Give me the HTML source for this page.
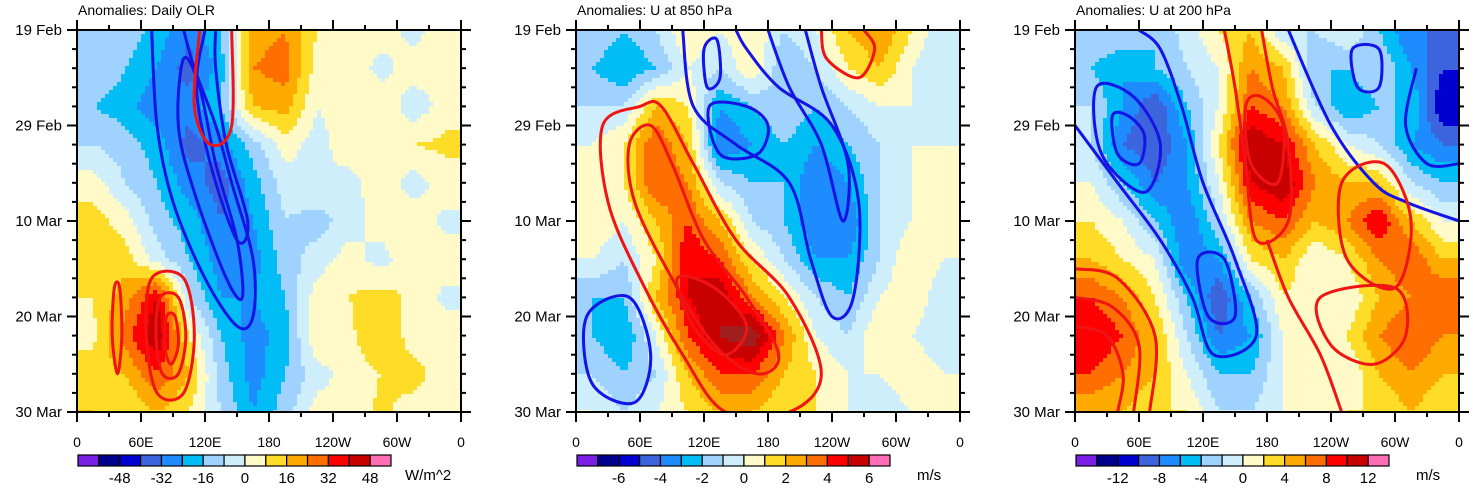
<!DOCTYPE html>
<html><head><meta charset="utf-8"><style>
body{margin:0;background:#fff;width:1473px;height:497px;overflow:hidden}
svg text{font-family:"Liberation Sans",sans-serif;fill:#000}
</style></head><body>
<svg id="chart" width="1473" height="497" xmlns="http://www.w3.org/2000/svg">
<defs>
<clipPath id="c0"><rect x="77" y="30" width="384" height="382"/></clipPath>
<clipPath id="c1"><rect x="576" y="30" width="384" height="382"/></clipPath>
<clipPath id="c2"><rect x="1075" y="30" width="384" height="382"/></clipPath>
</defs>
</svg>
<script>
// ---- data ----
const lonCenters=[15,45,75,105,135,165,195,225,255,285,315,345];
const dayRows=[0,4,8,12,16,20,24,28,32,36,40];
const xTickLabels=["0","60E","120E","180","120W","60W","0"];
const yTickLabels=["19 Feb","29 Feb","10 Mar","20 Mar","30 Mar"];
const titles=["Anomalies: Daily OLR","Anomalies: U at 850 hPa","Anomalies: U at 200 hPa"];
const units=["W/m^2","m/s","m/s"];
const levelStart=[-56,-7,-14];
const levelStep=[8,1,2];
const palette=["#7a1fe6","#00008c","#0000d0","#3c64dc","#1e8cff","#00bef5","#a0d2ff","#cdeefa","#fffac8","#ffdc28","#ffaa00","#ff6e00","#ff0000","#c80000","#a01e1e","#ff6eb4"];
const olr=[
[-12,-10,-20,-30,-16,20,24,8,4,6,-4,6],
[-8,-16,-24,-36,-20,24,28,4,8,-4,6,2],
[-16,-20,-30,-28,-16,16,20,0,4,8,-6,4],
[-8,-12,-20,-36,-28,-12,4,-4,6,4,8,10],
[4,-8,-16,-28,-36,-20,-4,0,-4,6,-4,4],
[12,4,-12,-20,-32,-24,-8,-12,-4,4,6,-2],
[16,12,-4,-16,-28,-28,-12,-4,4,-4,8,4],
[8,20,40,-8,-24,-24,-16,4,8,12,6,-2],
[6,28,48,8,-16,-28,-20,8,6,16,4,4],
[12,16,32,16,-12,-28,-16,-4,4,8,12,2],
[16,8,16,8,-8,-24,-12,4,2,10,4,6]];
const u850=[
[-1,-2,-1,1,0,1,-1,0,2,3,1,-1],
[-2,-3,-2,0,-1,1,-2,-1,1,2,0,-1],
[-1,-1,2,1,-3,-2,-1,-2,-1,0,0,-1],
[0,1,4,2,-4,-3,-2,-3,-2,-1,0,0],
[0,1,4,3,-1,-2,-2,-4,-3,-1,0,1],
[1,0,2,4,2,-1,-2,-4,-4,-1,0,0],
[0,-1,1,5,4,1,-1,-3,-3,-1,1,0],
[-2,-2,2,5,6,3,1,-1,-2,0,1,-1],
[-2,-3,0,4,6,7,3,0,-1,1,0,-1],
[-1,-2,-1,2,4,4,2,1,0,0,1,0],
[0,-1,0,1,2,2,1,1,0,-1,0,0]];
const u200=[
[-2,-2,-4,-1,2,4,-2,-2,0,-4,-8,-8],
[-4,-6,-4,-2,0,6,4,-4,-4,-2,-6,-10],
[-2,-6,-10,-4,0,8,6,-2,-6,-4,-4,-12],
[-2,-8,-10,-6,2,12,10,4,0,-2,-6,-8],
[0,-4,-8,-6,0,10,12,6,4,4,-2,-4],
[2,0,-4,-8,-2,6,8,4,6,10,4,0],
[4,2,0,-8,-6,2,4,0,2,6,8,4],
[8,6,2,-4,-10,-4,2,0,0,4,6,8],
[10,8,4,-2,-8,-6,0,2,2,6,8,6],
[8,6,4,0,-4,-4,0,2,0,4,6,4],
[4,4,2,2,-2,-2,0,0,2,2,4,2]];
// contour polylines: [lon, day]
const blue0=[[[70,0],[75,10],[90,18],[120,26],[150,31],[165,30],[165,24],[145,16],[130,10],[110,4],[100,0]],
 [[100,3],[95,10],[110,17],[140,26],[155,28],[150,22],[130,14],[115,6],[100,3]],
 [[120,0],[112,6],[125,14],[150,22],[160,20],[140,12],[130,4],[130,0]]];
const red0=[[[115,0],[110,8],[125,12],[145,10],[145,0]],
 [[70,26],[65,32],[75,38],[100,38],[110,32],[100,26],[70,26]],
 [[78,28],[74,32],[80,36],[95,36],[102,32],[95,28],[78,28]],
 [[84,30],[82,33],[88,35],[95,33],[92,30],[84,30]],
 [[35,27],[33,32],[38,36],[42,32],[40,27],[35,27]]];
const blue1=[[[100,0],[110,8],[150,12],[200,16],[220,24],[240,30],[260,28],[265,18],[240,10],[190,6],[160,2],[150,0]],
 [[125,8],[135,13],[170,13],[180,10],[160,8],[125,8]],
 [[10,30],[15,37],[55,39],[70,34],[50,28],[10,30]],
 [[120,2],[123,6],[135,5],[132,1],[120,2]],
 [[180,0],[200,6],[230,12],[250,20],[255,14],[230,6],[215,0]]];
const red1=[[[25,10],[30,18],[60,26],[100,34],[140,40],[200,40],[230,36],[200,28],[150,22],[110,14],[80,8],[60,8],[25,10]],
 [[50,12],[55,18],[90,26],[130,33],[170,36],[190,34],[160,28],[120,22],[90,14],[70,10],[50,12]],
 [[95,26],[110,31],[140,34],[160,31],[130,27],[95,26]],
 [[230,0],[235,3],[265,5],[280,2],[270,0]]];
const blue2=[[[0,10],[40,16],[80,22],[110,28],[130,34],[170,32],[150,24],[120,16],[100,8],[80,2],[60,0]],
 [[20,6],[25,13],[65,17],[80,12],[55,7],[20,6]],
 [[35,9],[40,13],[60,14],[65,11],[50,9],[35,9]],
 [[115,24],[125,30],[150,30],[140,24],[115,24]],
 [[260,2],[265,6],[285,6],[285,2],[260,2]],
 [[320,4],[310,10],[330,14],[360,14]],
 [[200,0],[240,10],[280,16],[310,18],[360,20]]];
const red2=[[[140,0],[150,6],[160,14],[170,22],[200,20],[200,12],[185,6],[175,0]],
 [[160,8],[165,14],[190,16],[195,10],[175,7],[160,8]],
 [[250,16],[255,24],[300,27],[315,20],[290,14],[250,16]],
 [[0,25],[40,26],[75,32],[70,40]],
 [[0,28],[35,29],[60,33],[55,40]],
 [[0,31],[30,32],[45,36],[40,40]],
 [[230,28],[240,33],[280,35],[310,32],[300,27],[230,28]],
 [[180,22],[200,28],[230,34],[250,40]]];
const fields=[olr,u850,u200];
const blues=[blue0,blue1,blue2];
const reds=[red0,red1,red2];
const panelX=[77,576,1075];
// ---- render ----
const svg=document.getElementById('chart');
const NS="http://www.w3.org/2000/svg";
const PW=384,PH=382,PY=30;
function mk(tag,attrs,parent){const e=document.createElementNS(NS,tag);for(const k in attrs)e.setAttribute(k,attrs[k]);(parent||svg).appendChild(e);return e;}
function sample(f,lon,day){
  let cx=(lon-15)/30, ry=day/4;
  cx=Math.max(0,Math.min(11,cx)); ry=Math.max(0,Math.min(10,ry));
  const i0=Math.floor(cx),i1=Math.min(11,i0+1),j0=Math.floor(ry),j1=Math.min(10,j0+1);
  const fx=cx-i0,fy=ry-j0;
  const a=f[j0][i0]*(1-fx)+f[j0][i1]*fx, b=f[j1][i0]*(1-fx)+f[j1][i1]*fx;
  return a*(1-fy)+b*fy;
}
function smoothPath(pts){
  const closed=pts.length>2&&pts[0][0]===pts[pts.length-1][0]&&pts[0][1]===pts[pts.length-1][1];
  let P=closed?pts.slice(0,-1):pts.slice();
  const n=P.length;
  const get=i=>closed?P[(i+n)%n]:P[Math.max(0,Math.min(n-1,i))];
  let d='M'+P[0][0]+','+P[0][1];
  const segs=closed?n:n-1;
  for(let i=0;i<segs;i++){
    const p0=get(i-1),p1=get(i),p2=get(i+1),p3=get(i+2);
    const c1=[p1[0]+(p2[0]-p0[0])/6,p1[1]+(p2[1]-p0[1])/6];
    const c2=[p2[0]-(p3[0]-p1[0])/6,p2[1]-(p3[1]-p1[1])/6];
    d+=` C${c1[0]},${c1[1]} ${c2[0]},${c2[1]} ${p2[0]},${p2[1]}`;
  }
  return d+(closed?'Z':'');
}
for(let p=0;p<3;p++){
  const x0=panelX[p];
  const xS=lon=>x0+lon/360*PW, yS=d=>PY+d/40*PH;
  const g=mk('g',{'clip-path':`url(#c${p})`});
  
  
  const st=4;
  for(let py=0;py<PH;py+=st){for(let px=0;px<PW;px+=st){
    const lon=(px+st/2)/PW*360, day=(py+st/2)/PH*40;
    const v=sample(fields[p],lon,day);
    let idx=Math.floor((v-levelStart[p])/levelStep[p])+1; idx=Math.max(0,Math.min(15,idx));
    mk('rect',{x:x0+px,y:PY+py,width:st+0.5,height:st+0.5,fill:palette[idx]},g);
  }}
  const drawLines=(arr,color,name)=>arr.forEach(line=>{
    const el=mk('path',{d:smoothPath(line.map(q=>[xS(q[0]),yS(q[1])])),fill:'none',stroke:color,'stroke-width':3,'stroke-linejoin':'round'},g);
    
    
  });
  drawLines(blues[p],'#1414e6','negative-contour');
  drawLines(reds[p],'#f01414','positive-contour');
  const fr=mk('rect',{x:x0,y:PY,width:PW,height:PH,fill:'none',stroke:'#000','stroke-width':2});
  
  
  for(let k=0;k<=12;k++){
    const x=xS(k*30),L=k%2?5:10;
    mk('line',{x1:x,y1:PY,x2:x,y2:PY-L,stroke:'#000','stroke-width':2});
    mk('line',{x1:x,y1:PY+PH,x2:x,y2:PY+PH+L,stroke:'#000','stroke-width':2});
    if(k%2==0){const t=mk('text',{x:x,y:447,'text-anchor':'middle','font-size':14});t.textContent=xTickLabels[k/2];
      }
  }
  for(let d=0;d<=40;d+=2){
    const y=yS(d),L=d%10?5:10;
    mk('line',{x1:x0,y1:y,x2:x0-L,y2:y,stroke:'#000','stroke-width':2});
    mk('line',{x1:x0+PW,y1:y,x2:x0+PW+L,y2:y,stroke:'#000','stroke-width':2});
    if(d%10==0){const t=mk('text',{x:x0-15,y:y+5,'text-anchor':'end','font-size':15});t.textContent=yTickLabels[d/10];
      }
  }
  const tt=mk('text',{x:x0+1,y:15,'font-size':14});tt.textContent=titles[p];
  
  const cb=mk('g',{});
  
  
  const cx0=x0+1,cw=313/15;
  for(let i=0;i<15;i++){
    const ci=i==14?15:i;
    mk('rect',{x:cx0+i*cw,y:455,width:cw,height:11,fill:palette[ci],stroke:'#000','stroke-width':1.2},cb);
  }
  for(let j=2;j<=14;j+=2){
    const t=mk('text',{x:cx0+j*cw,y:483,'text-anchor':'middle','font-size':15},cb);
    t.textContent=String(levelStart[p]+levelStep[p]*(j-1));
  }
  const ut=mk('text',{x:p==0?405:cx0+340,y:480,'font-size':15},cb);ut.textContent=units[p];
}
</script>
</body></html>
